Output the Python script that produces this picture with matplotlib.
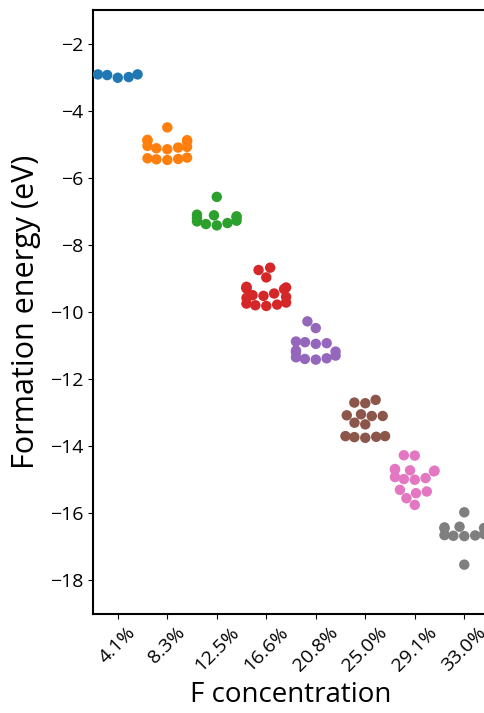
import matplotlib
matplotlib.use("Agg")
import matplotlib.pyplot as plt
import seaborn as sns
import pandas as pd

# formation energies (eV) per F concentration
conc_labels = ["4.1%", "8.3%", "12.5%", "16.6%", "20.8%", "25.0%", "29.1%", "33.0%"]

e_41 = [-2.92, -3.00, -3.02, -2.94, -2.92]
e_83 = [-4.50, -4.88, -4.90, -4.92, -4.87, -5.05, -5.10, -5.15, -5.12, -5.08,
        -5.40, -5.45, -5.47, -5.42, -5.44]
e_125 = [-6.57, -7.10, -7.15, -7.20, -7.18, -7.12, -7.30, -7.38, -7.42, -7.35, -7.28]
e_166 = [-8.68, -8.75, -8.97, -9.25, -9.28, -9.30, -9.32, -9.27, -9.45, -9.55,
         -9.50, -9.58, -9.52, -9.75, -9.80, -9.78, -9.82, -9.72]
e_208 = [-10.28, -10.48, -10.90, -10.93, -10.95, -10.88, -11.15, -11.20, -11.18,
         -11.35, -11.40, -11.42, -11.38, -11.30]
e_250 = [-12.62, -12.70, -12.72, -13.05, -13.08, -13.10, -13.10, -13.30, -13.35,
         -13.70, -13.72, -13.73, -13.75, -13.70]
e_291 = [-14.27, -14.28, -14.70, -14.72, -14.75, -14.68, -14.73, -14.95, -14.98,
         -15.00, -14.92, -15.30, -15.35, -15.40, -15.55, -15.75]
e_330 = [-15.97, -16.42, -16.45, -16.40, -16.44, -16.65, -16.67, -16.62, -16.68,
         -16.66, -17.53]

energies = [e_41, e_83, e_125, e_166, e_208, e_250, e_291, e_330]

rows = []
for lab, vals in zip(conc_labels, energies):
    for v in vals:
        rows.append({"conc": lab, "energy": v})
df = pd.DataFrame(rows)

plt.rcParams['font.family'] = ['Open Sans', 'DejaVu Sans']

fig = plt.figure(figsize=(4.85, 7.13), dpi=100)
# axes deliberately runs past the right edge (cropped original)
ax = fig.add_axes([0.1918, 0.1389, 0.8165, 0.8471])
ax.set_xlim(-0.5, 7.5)
ax.set_ylim(-19, -1)

sns.swarmplot(data=df, x="conc", y="energy", hue="conc", order=conc_labels,
              palette="tab10", size=7.5, legend=False, ax=ax)
ax.set_xlim(-0.5, 7.5)
ax.set_ylim(-19, -1)

ax.set_xlabel("F concentration", fontsize=20)
ax.set_ylabel("Formation energy (eV)", fontsize=22, labelpad=6)
ax.set_yticks(range(-18, -1, 2))
ax.tick_params(axis='both', labelsize=14)
plt.setp(ax.get_xticklabels(), rotation=45, ha='center')
for s in ax.spines.values():
    s.set_linewidth(1.5)

fig.savefig("out.png", dpi=100)
